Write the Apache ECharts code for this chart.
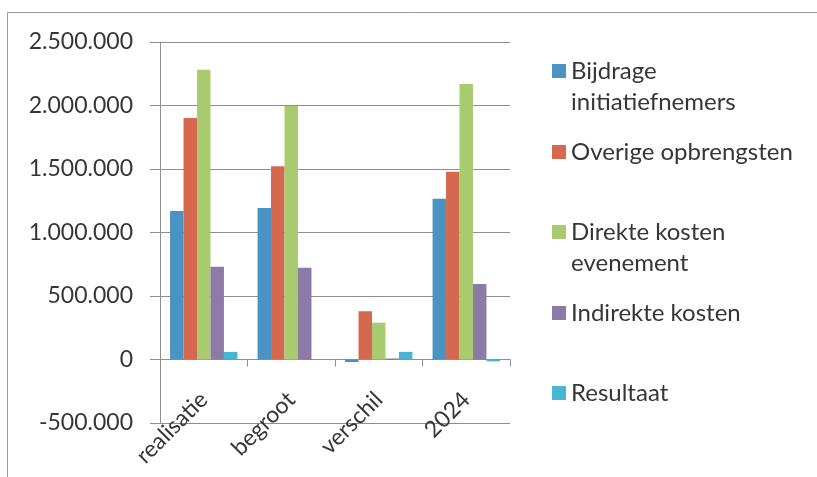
<!DOCTYPE html>
<html>
<head>
<meta charset="utf-8">
<script src="https://cdn.jsdelivr.net/npm/echarts@6/dist/echarts.min.js"></script>
<style>
html,body{margin:0;padding:0;background:#fff;}
#chart{width:817px;height:477px;}
</style>
</head>
<body>
<div id="chart"></div>
<script>
var categories = ['realisatie', 'begroot', 'verschil', '2024'];
var seriesNames = ['Bijdrage\ninitiatiefnemers', 'Overige opbrengsten', 'Direkte kosten\nevenement', 'Indirekte kosten', 'Resultaat'];
var bijdrage = [1170000, 1193000, -20000, 1266000];
var overige = [1901000, 1522000, 380000, 1478000];
var direkte = [2282000, 1997000, 290000, 2170000];
var indirekte = [731000, 723000, 8000, 595000];
var resultaat = [60000, 0, 60000, -15000];
var colors = ['#4a94c3', '#d5684f', '#a8cb70', '#8b7ba6', '#48b5d3'];

var values = [bijdrage, overige, direkte, indirekte, resultaat];
var FONT = 'Lato';
var TEXT = '#363636';
var GRID = '#8e8e8e';

function fmt(v) {
  return String(v).replace(/\B(?=(\d{3})+(?!\d))/g, '.');
}

var legendTops = [24.5, 136.5, 185.5, 297.5, 377.5];
var legends = seriesNames.map(function (n, i) {
  var twoLine = n.indexOf('\n') >= 0;
  return {
    orient: 'vertical',
    left: 552,
    top: legendTops[i],
    padding: 0,
    itemWidth: 14,
    itemHeight: 14,
    selectedMode: false,
    icon: 'rect',
    formatter: function (name) { return twoLine ? ' \n' + name : name; },
    textStyle: {
      fontFamily: FONT,
      fontSize: 24,
      color: TEXT,
      lineHeight: 31
    },
    data: [n]
  };
});

var series = seriesNames.map(function (n, i) {
  return {
    name: n,
    type: 'bar',
    data: values[i],
    barGap: 0,
    barCategoryGap: '23%',
    itemStyle: { color: colors[i] },
    emphasis: { disabled: true }
  };
});

var chart = echarts.init(document.getElementById('chart'), null, { renderer: 'canvas' });
chart.setOption({
  animation: false,
  backgroundColor: '#ffffff',
  color: colors,
  graphic: [{
    type: 'rect',
    shape: { x: 7.5, y: 12.5, width: 900, height: 600 },
    style: { fill: 'none', stroke: '#9a9a9a', lineWidth: 1 },
    silent: true
  }],
  legend: legends,
  grid: { left: 160, right: 307, top: 42, bottom: 54, containLabel: false, outerBoundsMode: 'none' },
  xAxis: {
    type: 'category',
    data: categories,
    boundaryGap: true,
    axisLine: { show: true, onZero: true, lineStyle: { color: GRID, width: 1 } },
    axisTick: { show: true, length: 7, alignWithLabel: false, lineStyle: { color: GRID } },
    axisLabel: {
      rotate: 45,
      margin: -27,
      interval: 0,
      hideOverlap: false,
      fontFamily: FONT,
      fontSize: 23,
      color: TEXT
    },
    splitLine: { show: false }
  },
  yAxis: {
    type: 'value',
    min: -500000,
    max: 2500000,
    interval: 500000,
    axisLine: { show: true, lineStyle: { color: GRID, width: 1 } },
    axisTick: { show: true, length: 10, lineStyle: { color: GRID } },
    axisLabel: {
      margin: 27,
      fontFamily: FONT,
      fontSize: 23,
      color: TEXT,
      formatter: fmt
    },
    splitLine: { show: true, lineStyle: { color: GRID, width: 1 } }
  },
  series: series
});
</script>
</body>
</html>
